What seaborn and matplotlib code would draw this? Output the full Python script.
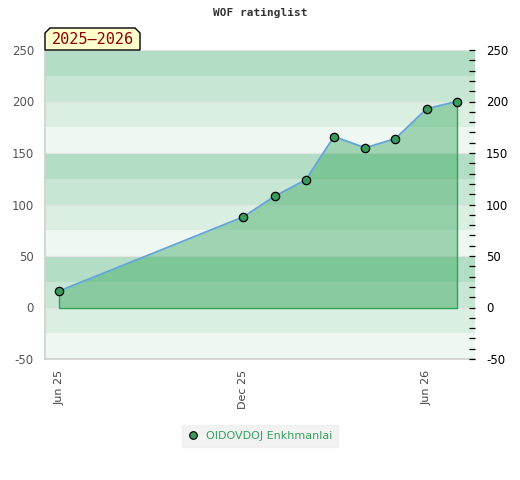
import matplotlib
matplotlib.use("Agg")
import matplotlib.pyplot as plt
import matplotlib.dates as mdates
from matplotlib.patches import Polygon
from matplotlib.lines import Line2D
import seaborn as sns
import pandas as pd
import numpy as np

# ---- data ----
dates = ["2025-06-01", "2025-12-01", "2026-01-01", "2026-02-01", "2026-03-01",
         "2026-04-01", "2026-05-01", "2026-06-01", "2026-07-01"]
ratings = [16, 88, 108, 124, 166, 155, 164, 193, 200]
player = "OIDOVDOJ Enkhmanlai"
title = "WOF ratinglist"
period_label = "2025\u20132026"
tick_dates = ["2025-06-01", "2025-12-01", "2026-06-01"]
tick_labels = ["Jun 25", "Dec 25", "Jun 26"]

df = pd.DataFrame({"date": pd.to_datetime(dates), "rating": ratings})

sns.set_theme(style="white")
plt.rcParams["font.family"] = ["DejaVu Sans"]
plt.rcParams["axes.unicode_minus"] = False

W, H = 520, 480
fig = plt.figure(figsize=(W / 100, H / 100), dpi=100)
ax = fig.add_axes([45 / W, 1 - 359 / H, 430 / W, 309 / H])

# background bands
band_cols = ["#b3ddc4", "#c8e6d4", "#dbeee2", "#eef7f1"]
lo, hi = -50, 250
edges = np.arange(hi, lo, -25)
for i, top in enumerate(edges):
    ax.axhspan(top - 25, top, color=band_cols[i % 4], lw=0, zorder=0)
for yv in range(-50, 251, 50):
    ax.axhline(yv, color="#e4e4e4", lw=0.8, zorder=0.5)

# fill under the line
ax.fill_between(df["date"], df["rating"], 0, color="#3daa64", alpha=0.45, lw=0, zorder=1)
# fill outline
ax.plot([df["date"].iloc[0], df["date"].iloc[0]], [df["rating"].iloc[0], 0], color="#2ea358", lw=1, zorder=2)
ax.plot([df["date"].iloc[-1], df["date"].iloc[-1]], [df["rating"].iloc[-1], 0], color="#2ea358", lw=1, zorder=2)
ax.plot([df["date"].iloc[0], df["date"].iloc[-1]], [0, 0], color="#2ea358", lw=1, zorder=2)

sns.lineplot(data=df, x="date", y="rating", ax=ax, color="#62a4da", lw=1.3,
             marker="o", markersize=6, markerfacecolor="#3a9a5c",
             markeredgecolor="black", markeredgewidth=0.9, zorder=3)

ax.set_xlim(pd.Timestamp("2025-05-18"), pd.Timestamp("2026-07-19"))
ax.set_ylim(lo, hi)
ax.set_xlabel("")
ax.set_ylabel("")

ax.set_xticks(pd.to_datetime(tick_dates))
ax.set_xticklabels(tick_labels, rotation=90, fontsize=8, color="#444444")
ax.set_yticks(range(-50, 251, 50))
ax.tick_params(axis="y", labelsize=8.5, labelcolor="#555555", length=0, pad=8)
ax.tick_params(axis="x", length=0, pad=8)

for s in ["top", "right"]:
    ax.spines[s].set_visible(False)
for s in ["left", "bottom"]:
    ax.spines[s].set_color("#d0d0d0")
    ax.spines[s].set_linewidth(1.2)

ax2 = ax.twinx()
ax2.set_ylim(lo, hi)
ax2.set_yticks(range(-50, 251, 50))
ax2.set_yticks(range(-50, 251, 10), minor=True)
ax2.tick_params(axis="y", which="both", direction="in", length=4, width=0.9,
                labelsize=8.5, labelcolor="black", color="black", pad=8)
for s in ax2.spines.values():
    s.set_visible(False)

# title
fig.text(260 / W, 1 - 13 / H, title, ha="center", va="center",
         family="DejaVu Sans Mono", fontweight="bold", fontsize=8, color="#333333")

# period label box
pts = [(45, 50), (45, 33), (50, 28), (135, 28), (140, 33), (140, 50)]
poly = Polygon([(x / W, 1 - y / H) for x, y in pts], closed=True,
               transform=fig.transFigure, facecolor="#ffffcc", edgecolor="black", lw=1, zorder=5)
fig.patches.append(poly)
fig.text(92.5 / W, 1 - 40 / H, period_label, ha="center", va="center",
         family="DejaVu Sans Mono", fontsize=11, color="#8b0000", zorder=6)

# legend
handle = Line2D([], [], ls="none", marker="o", markersize=5.5,
                markerfacecolor="#3a9a5c", markeredgecolor="black", markeredgewidth=0.8)
leg = fig.legend([handle], [player], loc="center", bbox_to_anchor=(260 / W, 1 - 436 / H),
                 frameon=True, fontsize=8, handletextpad=0.6, borderpad=0.5,
                 handlelength=1.0)
leg.get_frame().set_facecolor("#efefef")
leg.get_frame().set_edgecolor("#efefef")
leg.get_frame().set_boxstyle("square", pad=0)
for t in leg.get_texts():
    t.set_color("#34a35c")

fig.savefig("out.png", dpi=100)
